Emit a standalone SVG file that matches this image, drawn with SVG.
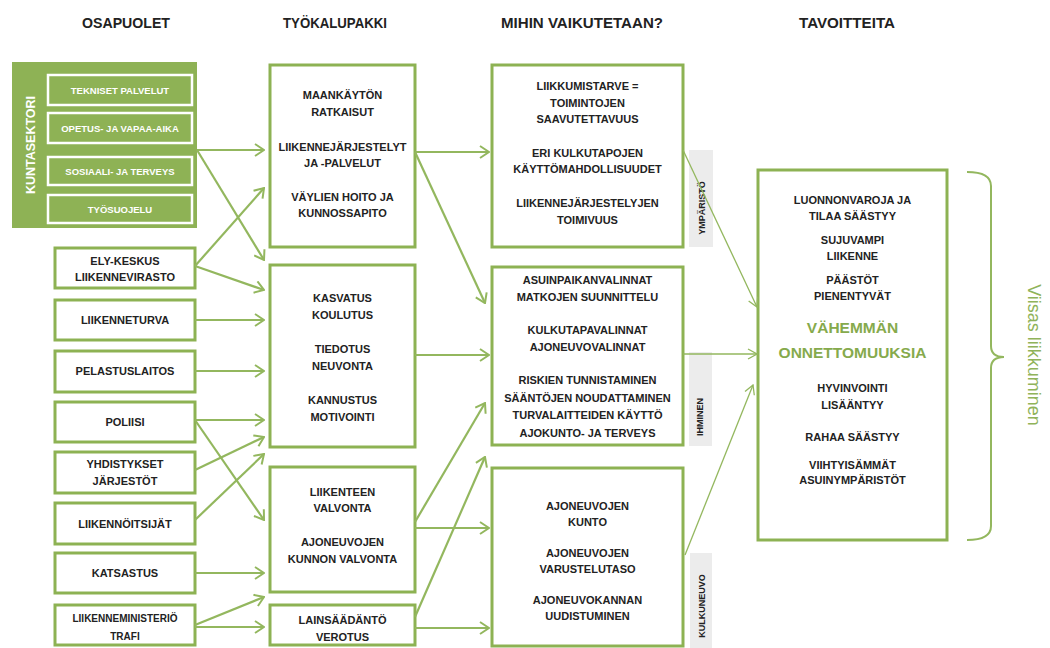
<svg xmlns="http://www.w3.org/2000/svg" width="1050" height="648" viewBox="0 0 1050 648">
<style>
text{font-family:"Liberation Sans",Arial,sans-serif;font-weight:bold;fill:#222;text-anchor:middle}
.h{font-size:14.5px}
.t{font-size:11px}
.s{font-size:10px}
.w{font-size:9.5px;fill:#fff}
.box{fill:#fff;stroke:#8db253;stroke-width:3}
.inner{fill:none;stroke:#fff;stroke-width:2.5}
.side{fill:#ececec}
.lab{font-size:9px}
.c{fill:none;stroke:#93b75e;stroke-width:2.2}
.cn{fill:none;stroke:#93b75e;stroke-width:1.3}
.big{font-size:15.5px;fill:#86aa4c}
</style>
<defs>
<marker id="ah" viewBox="0 0 12 14" refX="11" refY="7" markerWidth="12" markerHeight="14" markerUnits="userSpaceOnUse" orient="auto">
<path d="M2,1 L11,7 L2,13" fill="none" stroke="#93b75e" stroke-width="2"/>
</marker>
<marker id="ahn" viewBox="0 0 12 12" refX="11" refY="6" markerWidth="12" markerHeight="12" markerUnits="userSpaceOnUse" orient="auto">
<path d="M2,1 L11,6 L2,11" fill="none" stroke="#93b75e" stroke-width="1.3"/>
</marker>
</defs>
<rect width="1050" height="648" fill="#fff"/>

<g id="headers">
<text class="h" x="126" y="28" textLength="88" lengthAdjust="spacingAndGlyphs">OSAPUOLET</text>
<text class="h" x="335" y="28" textLength="104" lengthAdjust="spacingAndGlyphs">TYÖKALUPAKKI</text>
<text class="h" x="582" y="28" textLength="162" lengthAdjust="spacingAndGlyphs">MIHIN VAIKUTETAAN?</text>
<text class="h" x="847" y="28" textLength="96" lengthAdjust="spacingAndGlyphs">TAVOITTEITA</text>
</g>

<g id="kuntasektori">
<rect x="12" y="62" width="185" height="166" fill="#8eb255"/>
<text class="w" style="font-size:12.5px" transform="translate(35,145) rotate(-90)">KUNTASEKTORI</text>
<rect class="inner" x="48" y="75" width="144" height="30"/>
<text class="w" x="120" y="93.5">TEKNISET PALVELUT</text>
<rect class="inner" x="48" y="113" width="144" height="30"/>
<text class="w" x="120" y="131.5">OPETUS- JA VAPAA-AIKA</text>
<rect class="inner" x="48" y="157" width="144" height="28"/>
<text class="w" x="120" y="174.5">SOSIAALI- JA TERVEYS</text>
<rect class="inner" x="48" y="195" width="144" height="28"/>
<text class="w" x="120" y="212.5">TYÖSUOJELU</text>
</g>

<g id="ely"><rect class="box" x="55" y="248" width="140" height="40"/>
<text class="t" x="125" y="264.5">ELY-KESKUS</text><text class="t" x="125" y="281">LIIKENNEVIRASTO</text></g>
<g id="liikenneturva"><rect class="box" x="55" y="300" width="140" height="40"/>
<text class="t" x="125" y="324">LIIKENNETURVA</text></g>
<g id="pelastuslaitos"><rect class="box" x="55" y="351" width="140" height="41"/>
<text class="t" x="125" y="375">PELASTUSLAITOS</text></g>
<g id="poliisi"><rect class="box" x="55" y="402" width="140" height="40"/>
<text class="t" x="125" y="426">POLIISI</text></g>
<g id="yhdistykset"><rect class="box" x="55" y="452" width="140" height="41"/>
<text class="t" x="125" y="468">YHDISTYKSET</text><text class="t" x="125" y="485">JÄRJESTÖT</text></g>
<g id="liikennoitsijat"><rect class="box" x="55" y="503" width="140" height="41"/>
<text class="t" x="125" y="528">LIIKENNÖITSIJÄT</text></g>
<g id="katsastus"><rect class="box" x="55" y="553" width="140" height="40"/>
<text class="t" x="125" y="577">KATSASTUS</text></g>
<g id="ministerio"><rect class="box" x="55" y="605" width="140" height="40"/>
<text class="s" x="125" y="622">LIIKENNEMINISTERIÖ</text><text class="s" x="125" y="639.5">TRAFI</text></g>

<g id="tk1"><rect class="box" x="270" y="65" width="145" height="182"/>
<text class="t" x="342.5" y="99">MAANKÄYTÖN</text><text class="t" x="342.5" y="116">RATKAISUT</text>
<text class="t" x="342.5" y="151">LIIKENNEJÄRJESTELYT</text><text class="t" x="342.5" y="167">JA -PALVELUT</text>
<text class="t" x="342.5" y="201">VÄYLIEN HOITO JA</text><text class="t" x="342.5" y="217">KUNNOSSAPITO</text></g>
<g id="tk2"><rect class="box" x="270" y="265" width="145" height="182"/>
<text class="t" x="342.5" y="302">KASVATUS</text><text class="t" x="342.5" y="319">KOULUTUS</text>
<text class="t" x="342.5" y="353">TIEDOTUS</text><text class="t" x="342.5" y="370">NEUVONTA</text>
<text class="t" x="342.5" y="404">KANNUSTUS</text><text class="t" x="342.5" y="421">MOTIVOINTI</text></g>
<g id="tk3"><rect class="box" x="270" y="467" width="145" height="125"/>
<text class="t" x="342.5" y="496">LIIKENTEEN</text><text class="t" x="342.5" y="512">VALVONTA</text>
<text class="t" x="342.5" y="546">AJONEUVOJEN</text><text class="t" x="342.5" y="563">KUNNON VALVONTA</text></g>
<g id="tk4"><rect class="box" x="270" y="605" width="145" height="40"/>
<text class="t" x="342.5" y="624">LAINSÄÄDÄNTÖ</text><text class="t" x="342.5" y="641">VEROTUS</text></g>

<g id="side-labels">
<rect class="side" x="689" y="150" width="24" height="97"/>
<text class="lab" transform="translate(705,208) rotate(-90)">YMPÄRISTÖ</text>
<rect class="side" x="689" y="352" width="23" height="94"/>
<text class="lab" transform="translate(703,417) rotate(-90)">IHMINEN</text>
<rect class="side" x="690" y="553" width="22" height="95"/>
<text class="lab" transform="translate(705,606) rotate(-90)">KULKUNEUVO</text>
</g>

<g id="imp1"><rect class="box" x="492" y="65" width="191" height="182"/>
<text class="t" x="587.5" y="90">LIIKKUMISTARVE =</text><text class="t" x="587.5" y="107">TOIMINTOJEN</text><text class="t" x="587.5" y="123">SAAVUTETTAVUUS</text>
<text class="t" x="587.5" y="157">ERI KULKUTAPOJEN</text><text class="t" x="587.5" y="173">KÄYTTÖMAHDOLLISUUDET</text>
<text class="t" x="587.5" y="207">LIIKENNEJÄRJESTELYJEN</text><text class="t" x="587.5" y="224">TOIMIVUUS</text></g>
<g id="imp2"><rect class="box" x="492" y="267" width="191" height="178"/>
<text class="t" x="587.5" y="284">ASUINPAIKANVALINNAT</text><text class="t" x="587.5" y="301">MATKOJEN SUUNNITTELU</text>
<text class="t" x="587.5" y="334">KULKUTAPAVALINNAT</text><text class="t" x="587.5" y="351">AJONEUVOVALINNAT</text>
<text class="t" x="587.5" y="384">RISKIEN TUNNISTAMINEN</text><text class="t" x="587.5" y="402">SÄÄNTÖJEN NOUDATTAMINEN</text>
<text class="t" x="587.5" y="419">TURVALAITTEIDEN KÄYTTÖ</text><text class="t" x="587.5" y="437">AJOKUNTO- JA TERVEYS</text></g>
<g id="imp3"><rect class="box" x="492" y="468" width="191" height="178"/>
<text class="t" x="587.5" y="510">AJONEUVOJEN</text><text class="t" x="587.5" y="526">KUNTO</text>
<text class="t" x="587.5" y="557">AJONEUVOJEN</text><text class="t" x="587.5" y="573">VARUSTELUTASO</text>
<text class="t" x="587.5" y="604">AJONEUVOKANNAN</text><text class="t" x="587.5" y="620">UUDISTUMINEN</text></g>

<g id="goals"><rect class="box" x="758" y="170" width="189" height="370"/>
<text class="t" x="852.5" y="204">LUONNONVAROJA JA</text><text class="t" x="852.5" y="220">TILAA SÄÄSTYY</text>
<text class="t" x="852.5" y="244">SUJUVAMPI</text><text class="t" x="852.5" y="260">LIIKENNE</text>
<text class="t" x="852.5" y="284">PÄÄSTÖT</text><text class="t" x="852.5" y="300">PIENENTYVÄT</text>
<text class="big" x="852.5" y="333">VÄHEMMÄN</text><text class="big" x="852.5" y="358">ONNETTOMUUKSIA</text>
<text class="t" x="852.5" y="392">HYVINVOINTI</text><text class="t" x="852.5" y="409">LISÄÄNTYY</text>
<text class="t" x="852.5" y="441">RAHAA SÄÄSTYY</text>
<text class="t" x="852.5" y="469">VIIHTYISÄMMÄT</text><text class="t" x="852.5" y="484">ASUINYMPÄRISTÖT</text></g>

<g id="brace">
<path d="M967,172 Q991,172 991,186 L991,346 Q991,357 1004,357 Q991,357 991,368 L991,526 Q991,540 967,540" fill="none" stroke="#93b75e" stroke-width="2"/>
<text transform="translate(1028,355) rotate(90)" style="font-weight:normal;font-size:18px;fill:#8fb35a">Viisas liikkuminen</text>
</g>

<g id="connectors">
<path class="c" marker-end="url(#ah)" d="M197,150 L264,150"/>
<path class="c" marker-end="url(#ah)" d="M197,150 L264,260"/>
<path class="c" marker-end="url(#ah)" d="M195,266 L264,188"/>
<path class="c" marker-end="url(#ah)" d="M195,266 L264,290"/>
<path class="c" marker-end="url(#ah)" d="M195,320 L264,320"/>
<path class="c" marker-end="url(#ah)" d="M195,371 L264,371"/>
<path class="c" marker-end="url(#ah)" d="M195,420 L264,420"/>
<path class="c" marker-end="url(#ah)" d="M195,420 L264,520"/>
<path class="c" marker-end="url(#ah)" d="M195,470 L264,437"/>
<path class="c" marker-end="url(#ah)" d="M195,520 L264,454"/>
<path class="c" marker-end="url(#ah)" d="M195,573 L264,573"/>
<path class="c" marker-end="url(#ah)" d="M195,625 L264,597"/>
<path class="c" marker-end="url(#ah)" d="M195,627 L264,627"/>
<path class="c" marker-end="url(#ah)" d="M415,152 L489,152"/>
<path class="c" marker-end="url(#ah)" d="M415,152 L485,303"/>
<path class="c" marker-end="url(#ah)" d="M415,355 L489,355"/>
<path class="c" marker-end="url(#ah)" d="M415,522 L485,403"/>
<path class="c" marker-end="url(#ah)" d="M415,528 L489,528"/>
<path class="c" marker-end="url(#ah)" d="M415,617 L485,457"/>
<path class="c" marker-end="url(#ah)" d="M415,628 L489,628"/>
<path class="cn" marker-end="url(#ahn)" d="M683,150 L757,307"/>
<path class="cn" marker-end="url(#ahn)" d="M683,354 L757,354"/>
<path class="cn" marker-end="url(#ahn)" d="M685,555 L753,385"/>
</g>
</svg>
